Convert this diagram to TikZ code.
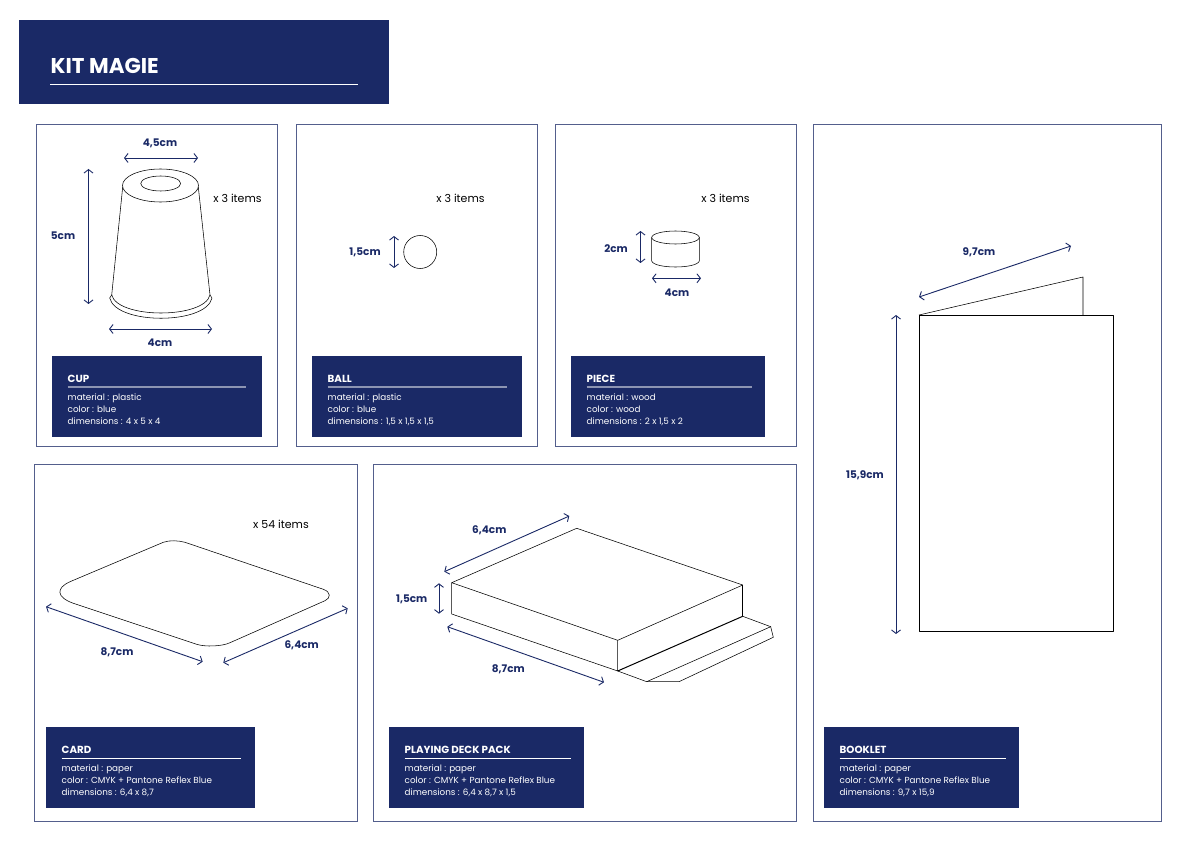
\documentclass[tikz,border=0pt]{standalone}
\usepackage{fontspec}
\setmainfont{Poppins}
\usetikzlibrary{positioning, arrows.meta}

\definecolor{kitnavy}{RGB}{26,41,102}

\tikzset{
    panel/.style={draw=kitnavy!75, line width=0.9pt},
    outline/.style={draw=black, line width=0.55pt, line join=round},
    dimline/.style={draw=kitnavy, line width=0.9pt, {Straight Barb[length=3.5pt,width=9pt]}-{Straight Barb[length=3.5pt,width=9pt]}},
    dimlabel/.style={text=kitnavy, font=\fontsize{10.5}{12}\selectfont\bfseries, inner sep=0pt},
    itemcount/.style={text=black, font=\fontsize{11}{12}\selectfont, inner sep=0pt},
    infotitle/.style={text=white, font=\fontsize{10.3}{12}\selectfont\bfseries, anchor=base west, inner sep=0pt},
    infoline/.style={text=white, font=\fontsize{8.8}{10}\selectfont, anchor=base west, inner sep=0pt},
    inforule/.style={draw=white, line width=0.7pt},
}

% name, left, top, width of box, width of rule, title, three lines
\newcommand{\infobox}[9]{
    \fill[kitnavy] (#2,#3) rectangle ++(#4,81);
    \node[infotitle] (#1Title) at (#2+15.5,#3+26) {#6};
    \coordinate (#1RuleL) at (#2+15.5,#3+31);
    \coordinate (#1RuleR) at (#2+15.5+#5,#3+31);
    \draw[inforule] (#1RuleL) -- (#1RuleR);
    \node[infoline] (#1Mat) at (#2+15.5,#3+44.5) {#7};
    \node[infoline] (#1Col) at (#2+15.5,#3+56.3) {#8};
    \node[infoline] (#1Dim) at (#2+15.5,#3+68.3) {#9};
}

\begin{document}
\begin{tikzpicture}[x=1pt, y=-1pt]
    \useasboundingbox (0,0) rectangle (1192,842);

    % header
    \fill[kitnavy] (19,20) rectangle (389,104);
    \node[text=white, font=\fontsize{21.4}{24}\selectfont\bfseries, anchor=base west, inner sep=0pt] (kitTitle) at (50.5,73.3) {KIT MAGIE};
    \coordinate (kitRuleL) at (50,84.5);
    \coordinate (kitRuleR) at (358,84.5);
    \draw[inforule] (kitRuleL) -- (kitRuleR);

    % panels
    \draw[panel] (36,124) rectangle (277,446);
    \draw[panel] (296,124) rectangle (537,446);
    \draw[panel] (555,124) rectangle (796,446);
    \draw[panel] (813.5,124) rectangle (1161,821);
    \draw[panel] (34,464) rectangle (357,821);
    \draw[panel] (373.5,464) rectangle (796,821);

    % info boxes
    \begin{scope}[inforule/.style={draw=white!50!kitnavy, line width=1.2pt}]
        \infobox{cup}{52}{356}{210}{178}{CUP}{material : plastic}{color : blue}{dimensions : 4 x 5 x 4}
        \infobox{ball}{312}{356}{210}{179}{BALL}{material : plastic}{color : blue}{dimensions : 1,5 x 1,5 x 1,5}
        \infobox{piece}{571}{356}{194}{165}{PIECE}{material : wood}{color : wood}{dimensions : 2 x 1,5 x 2}
    \end{scope}
    \infobox{card}{46}{727}{209}{179}{CARD}{material : paper}{color : CMYK + Pantone Reflex Blue}{dimensions : 6,4 x 8,7}
    \infobox{deck}{389}{727}{195}{166}{PLAYING DECK PACK}{material : paper}{color : CMYK + Pantone Reflex Blue}{dimensions : 6,4 x 8,7 x 1,5}
    \infobox{book}{824}{727}{195}{166}{BOOKLET}{material : paper}{color : CMYK + Pantone Reflex Blue}{dimensions : 9,7 x 15,9}

    % cup
    \draw[outline] (160.5,185.5) ellipse [x radius=38, y radius=16.5];
    \draw[outline] (160.7,183.5) ellipse [x radius=20, y radius=7.5];
    \draw[outline] (122.7,187) -- (111.7,295);
    \draw[outline] (198.3,187) -- (210,295);
    \draw[outline] (111.7,295) .. controls (118,319) and (204,319) .. (210,295);
    \draw[outline] (111.7,295) -- (109.7,298) .. controls (116,325) and (206,325) .. (212,298) -- (210,295);
    \coordinate (cupTopL) at (124,158);
    \coordinate (cupTopR) at (198,158);
    \coordinate (cupHighT) at (88.5,169);
    \coordinate (cupHighB) at (88.5,304);
    \coordinate (cupBaseL) at (109,329);
    \coordinate (cupBaseR) at (212,329);
    \draw[dimline] (cupTopL) -- (cupTopR);
    \draw[dimline] (cupHighT) -- (cupHighB);
    \draw[dimline] (cupBaseL) -- (cupBaseR);
    \node[dimlabel] (cupTopLabel) at (160,143.5) {4,5cm};
    \node[dimlabel] (cupHighLabel) at (63,235.5) {5cm};
    \node[dimlabel] (cupBaseLabel) at (160,342.5) {4cm};
    \node[itemcount] (cupCount) at (237.5,198.5) {x 3 items};

    % ball
    \draw[outline] (420.2,252) circle [radius=16.5];
    \coordinate (ballHighT) at (394,236);
    \coordinate (ballHighB) at (394,268);
    \draw[dimline] (ballHighT) -- (ballHighB);
    \node[dimlabel] (ballLabel) at (365,252.5) {1,5cm};
    \node[itemcount] (ballCount) at (460.5,198.5) {x 3 items};

    % piece
    \draw[outline] (675.5,237.5) ellipse [x radius=23.8, y radius=6.5];
    \draw[outline] (651.7,237.5) -- (651.7,261) .. controls (654,269) and (697,269) .. (699.3,261) -- (699.3,237.5);
    \coordinate (pieceHighT) at (640.5,231);
    \coordinate (pieceHighB) at (640.5,263);
    \coordinate (pieceBaseL) at (652,278.3);
    \coordinate (pieceBaseR) at (701,278.3);
    \draw[dimline] (pieceHighT) -- (pieceHighB);
    \draw[dimline] (pieceBaseL) -- (pieceBaseR);
    \node[dimlabel] (pieceHighLabel) at (616,248.5) {2cm};
    \node[dimlabel] (pieceBaseLabel) at (677,292.5) {4cm};
    \node[itemcount] (pieceCount) at (725.5,198.5) {x 3 items};

    % booklet
    \draw[outline] (919,315) -- (1083,277) -- (1083,315);
    \draw[outline] (919,315) rectangle (1113,631);
    \coordinate (bookTopL) at (919,297);
    \coordinate (bookTopR) at (1071,246);
    \coordinate (bookHighT) at (896,315);
    \coordinate (bookHighB) at (896,634);
    \draw[dimline] (bookTopL) -- (bookTopR);
    \draw[dimline] (bookHighT) -- (bookHighB);
    \node[dimlabel] (bookTopLabel) at (979,252.5) {9,7cm};
    \node[dimlabel] (bookHighLabel) at (865,475.5) {15,9cm};

    % card
    \draw[outline] (70,581.7) -- (163.3,542.3) .. controls (170,540) and (178,540.5) .. (185,542.3)
        -- (323.3,589.3) .. controls (331,592) and (331,598) .. (325,600.7)
        -- (230,642.7) .. controls (222,646.5) and (205,647) .. (196.7,644.3)
        -- (73.3,603.3) .. controls (56,597) and (56,588) .. (70,581.7) -- cycle;
    \coordinate (cardLongL) at (46,606.7);
    \coordinate (cardLongR) at (202.7,661.7);
    \coordinate (cardShortL) at (223.3,662.7);
    \coordinate (cardShortR) at (347.7,608.3);
    \draw[dimline] (cardLongL) -- (cardLongR);
    \draw[dimline] (cardShortL) -- (cardShortR);
    \node[dimlabel] (cardLongLabel) at (117,652.5) {8,7cm};
    \node[dimlabel] (cardShortLabel) at (301.7,645.5) {6,4cm};
    \node[itemcount] (cardCount) at (281,524.5) {x 54 items};

    % deck pack
    \draw[outline] (451.7,582.7) -- (576.7,528.3) -- (742.7,585) -- (617.7,640.3) -- cycle;
    \draw[outline] (451.7,582.7) -- (451.7,614) -- (617.7,671) -- (617.7,640.3);
    \draw[outline] (742.7,585) -- (742.7,616.3);
    \draw[outline, line width=1pt] (617.7,671) -- (742.7,616.3);
    \draw[outline] (742.7,616.3) -- (770.7,626.7) -- (773.3,637.3) -- (679,681.7) -- (646.7,681.7) -- (617.7,671);
    \draw[outline] (646.7,681.7) -- (770.7,626.7);
    \coordinate (deckShortL) at (444.3,571.7);
    \coordinate (deckShortR) at (569.3,516);
    \coordinate (deckHighT) at (439,583.3);
    \coordinate (deckHighB) at (439,613.7);
    \coordinate (deckLongL) at (447.3,626.7);
    \coordinate (deckLongR) at (604,682.3);
    \draw[dimline] (deckShortL) -- (deckShortR);
    \draw[dimline] (deckHighT) -- (deckHighB);
    \draw[dimline] (deckLongL) -- (deckLongR);
    \node[dimlabel] (deckShortLabel) at (489.3,529.8) {6,4cm};
    \node[dimlabel] (deckHighLabel) at (411.7,599.5) {1,5cm};
    \node[dimlabel] (deckLongLabel) at (508.3,668.8) {8,7cm};
\end{tikzpicture}
\end{document}
